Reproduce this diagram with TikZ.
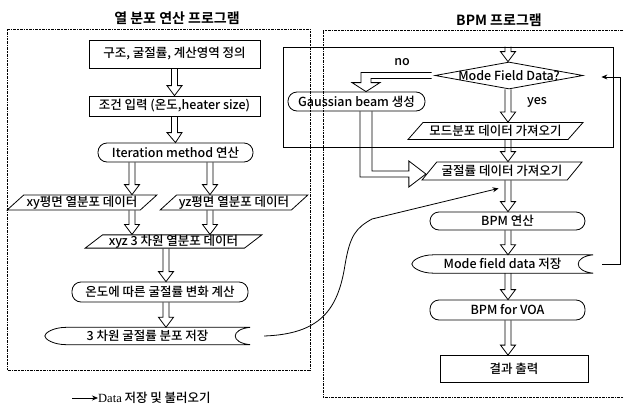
\documentclass[tikz,border=0pt]{standalone}
\usepackage{fontspec}
\setmainfont{Noto Sans CJK KR}[UprightFont={* Medium}, BoldFont={* Bold}]
\newfontfamily\serifL{Liberation Serif}
\usetikzlibrary{shapes.geometric,calc,arrows.meta}

\tikzset{
 box/.style={draw, line width=0.8pt, inner sep=0pt, font=\fontsize{12.5}{13}\selectfont},
 rbox/.style={box, rectangle},
 term/.style={box, rounded corners=9pt},
 para/.style={box, trapezium, trapezium left angle=40, trapezium right angle=140, trapezium stretches=true},
 dia/.style={box, diamond},
 txt/.style={inner sep=0pt, font=\fontsize{12.5}{13}\selectfont},
 harr/.style={line width=0.8pt, line join=miter},
 grp/.style={line width=0.6pt, dash pattern=on 2pt off 0.8pt on 0.8pt off 0.8pt},
 conn/.style={line width=0.8pt, -{Stealth[length=6pt,width=5pt]}},
 ttl/.style={inner sep=0pt, font=\bfseries\fontsize{14}{15}\selectfont},
}

\newcommand\hvarrow[2]{\draw[harr] let \p1=#1, \p2=#2 in
  (\x1-3pt,\y1) -- (\x1-3pt,\y2+10pt) -- (\x1-7.5pt,\y2+10pt) -- (\x2,\y2)
  -- (\x1+7.5pt,\y2+10pt) -- (\x1+3pt,\y2+10pt) -- (\x1+3pt,\y1);}

\newcommand\storeshape[1]{\draw[line width=0.8pt] let \p1=(#1.north west), \p2=(#1.south east) in
  (\x1+22pt,\y1) -- (\x2,\y1) .. controls (\x2-20pt,\y1-2pt) and (\x2-20pt,\y2+2pt) .. (\x2,\y2)
  -- (\x1+22pt,\y2) .. controls (\x1+8pt,\y2) and (\x1,{(\y1+\y2)/2-3pt}) .. (\x1,{(\y1+\y2)/2})
  .. controls (\x1,{(\y1+\y2)/2+3pt}) and (\x1+8pt,\y1) .. cycle;}

\begin{document}
\begin{tikzpicture}[x=1pt,y=-1pt]
\useasboundingbox (0,0) rectangle (624,407);

% titles
\node[ttl] (t1) at (177,18) {열 분포 연산 프로그램};
\node[ttl] (t2) at (499,20) {BPM 프로그램};

% group borders
\draw[grp] (7,29) rectangle (310,370);
\draw[grp] (626,30) -- (323,30) -- (323,397) -- (626,397);

% column coordinates
\coordinate (cL) at (132,0);
\coordinate (cR) at (210,0);
\coordinate (cM) at (166,0);
\coordinate (cN) at (366,0);
\coordinate (cB) at (508,0);

% left column
\node[rbox, minimum width=171pt, minimum height=28pt] (b1) at (174.5,54) {구조, 굴절률, 계산영역 정의};
\node[rbox, minimum width=171pt, minimum height=20pt] (b2) at (174.5,106) {조건 입력 (온도,heater size)};
\node[term, minimum width=155pt, minimum height=19pt] (it) at (175.5,152.5) {Iteration method 연산};
\node[para, minimum width=150pt, minimum height=15pt] (xy) at (82,202.5) {xy평면 열분포 데이터};
\node[para, minimum width=148pt, minimum height=15pt] (yz) at (234,202.5) {yz평면 열분포 데이터};
\node[para, minimum width=177pt, minimum height=13pt] (xyz) at (173.5,241.5) {xyz 3 차원 열분포 데이터};
\node[term, minimum width=176pt, minimum height=20pt] (temp) at (160,292) {온도에 따른 굴절률 변화 계산};
\node[txt, minimum width=205pt, minimum height=17pt] (st1) at (147.5,336) {3 차원 굴절률 분포 저장};
\storeshape{st1}

\hvarrow{(b1.south)}{(b2.north)}
\hvarrow{(b2.south)}{(it.north)}
\hvarrow{(it.south -| cL)}{(xy.north -| cL)}
\hvarrow{(it.south -| cR)}{(yz.north -| cR)}
\hvarrow{(xy.south -| cL)}{(xyz.north -| cL)}
\hvarrow{(yz.south -| cR)}{(xyz.north -| cR)}
\hvarrow{(xyz.south -| cM)}{(temp.north -| cM)}
\hvarrow{(temp.south -| cM)}{(st1.north -| cM)}

% right column
\node[draw, line width=0.8pt, minimum width=330pt, minimum height=100pt, inner sep=0pt] (frame) at (448,97) {};
\node[dia, minimum width=148pt, minimum height=27pt, label={[txt]center:Mode Field Data?}] (dia) at (509,75.5) {};
\node[term, minimum width=137pt, minimum height=19pt] (gau) at (356.5,101.5) {Gaussian beam 생성};
\node[para, minimum width=175pt, minimum height=17pt] (mode) at (495.5,131) {모드분포 데이터 가져오기};
\node[para, minimum width=160pt, minimum height=18pt] (ref) at (502,171) {굴절률 데이터 가져오기};
\node[term, minimum width=155pt, minimum height=18pt] (bpm) at (507.5,221) {BPM 연산};
\node[txt, minimum width=181pt, minimum height=18pt] (st2) at (502.5,264) {Mode field data 저장};
\storeshape{st2}
\node[term, minimum width=155pt, minimum height=20pt] (voa) at (507.5,310) {BPM for VOA};
\node[rbox, minimum width=148pt, minimum height=27pt] (res) at (514,369) {결과 출력};

\node[txt] (no) at (402,62) {no};
\node[txt] (yes) at (537,102) {yes};

\hvarrow{(frame.north -| cB)}{(dia.north -| cB)}
\hvarrow{(dia.south -| cB)}{(mode.north -| cB)}
\hvarrow{(mode.south -| cB)}{(ref.north -| cB)}
\hvarrow{(ref.south -| cB)}{(bpm.north -| cB)}
\hvarrow{(bpm.south -| cB)}{(st2.north -| cB)}
\hvarrow{(st2.south -| cB)}{(voa.north -| cB)}
\hvarrow{(voa.south -| cB)}{(res.north -| cB)}

% "no" branch
\draw[harr] let \p1=(dia.west), \p2=(gau.north -| cN) in
  (\x1-3pt,\y1+3pt) -- (\x2-5pt,\y1+3pt) -- (\x2-5pt,\y2+9pt) -- (\x2-14pt,\y2+9pt) -- (\x2,\y2)
  -- (\x2+14pt,\y2+9pt) -- (\x2+5pt,\y2+9pt) -- (\x2+5pt,\y1-3pt) -- (\x1-3pt,\y1-3pt);

% Gaussian -> refractive index data
\draw[harr] let \p1=(gau.south -| cN), \p2=($(ref.west)+(-3,3)$) in
  (\x1-6pt,\y1) -- (\x1-6pt,\y2-3pt) -- (\x2-17pt,\y2-3pt) -- (\x2-17pt,\y2-13pt) -- (\x2,\y2)
  -- (\x2-17pt,\y2+13pt) -- (\x2-17pt,\y2+3pt) -- (\x1+6pt,\y2+3pt) -- (\x1+6pt,\y1);

% data connectors
\draw[conn] ($(st1.east)+(14,0)$) .. controls (320,334) and (338,310) .. (345,265)
  .. controls (350,235) and (356,228) .. (372,219) -- ($(ref.south west)+(6,8)$);
\draw[conn] ($(st2.east)+(9,0)$) -- ++(18,0) |- ($(dia.east)+(18,1.5)$);

% legend
\coordinate (l1) at (72,398);
\node[anchor=west, inner sep=0pt, font=\fontsize{12.5}{13}\selectfont] (leg) at (98,398) {{\serifL Data} 저장 및 불러오기};
\draw[conn] (l1) -- (leg.west);
\end{tikzpicture}
\end{document}
